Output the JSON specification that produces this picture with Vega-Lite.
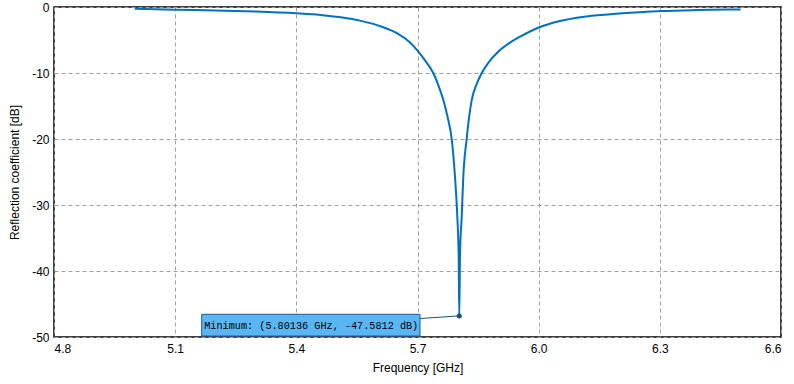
{
  "$schema": "https://vega.github.io/schema/vega-lite/v6.json",
  "width": 727,
  "height": 330,
  "autosize": {"type": "none"},
  "padding": {"left": 54, "top": 7, "right": 13, "bottom": 47},
  "background": "white",
  "config": {
    "view": {"stroke": "black", "strokeWidth": 1.5},
    "font": "Liberation Sans",
    "axis": {
      "domain": false,
      "ticks": false,
      "labelFont": "Liberation Sans",
      "labelFontSize": 12,
      "labelColor": "#000000",
      "titleFont": "Liberation Sans",
      "titleFontSize": 12,
      "titleFontWeight": "normal",
      "titleColor": "#000000",
      "gridColor": "#a0a0a0",
      "gridDash": [4, 3],
      "gridWidth": 1
    }
  },
  "datasets": {
    "curve": [
      {"f": 5.0, "db": -0.25},
      {"f": 5.1, "db": -0.4},
      {"f": 5.2, "db": -0.52},
      {"f": 5.3, "db": -0.68},
      {"f": 5.4, "db": -0.95},
      {"f": 5.46, "db": -1.2},
      {"f": 5.51, "db": -1.56},
      {"f": 5.56, "db": -2.1},
      {"f": 5.61, "db": -2.95},
      {"f": 5.65, "db": -4.0},
      {"f": 5.68, "db": -5.3},
      {"f": 5.70, "db": -6.6},
      {"f": 5.72, "db": -8.2},
      {"f": 5.739, "db": -10},
      {"f": 5.752, "db": -11.9},
      {"f": 5.764, "db": -14.1},
      {"f": 5.775, "db": -16.8},
      {"f": 5.7847, "db": -20},
      {"f": 5.7928, "db": -25.7},
      {"f": 5.7986, "db": -31.8},
      {"f": 5.8019, "db": -37.6},
      {"f": 5.8034, "db": -46.8},
      {"f": 5.8052, "db": -37.6},
      {"f": 5.8094, "db": -31.8},
      {"f": 5.8134, "db": -25.7},
      {"f": 5.8217, "db": -20},
      {"f": 5.8275, "db": -16.8},
      {"f": 5.8342, "db": -14.1},
      {"f": 5.845, "db": -11.9},
      {"f": 5.859, "db": -10},
      {"f": 5.877, "db": -8.3},
      {"f": 5.896, "db": -7},
      {"f": 5.929, "db": -5.4},
      {"f": 5.954, "db": -4.5},
      {"f": 6.0, "db": -3.1},
      {"f": 6.05, "db": -2.15},
      {"f": 6.108, "db": -1.5},
      {"f": 6.177, "db": -1.1},
      {"f": 6.25, "db": -0.8},
      {"f": 6.304, "db": -0.62},
      {"f": 6.391, "db": -0.47},
      {"f": 6.5, "db": -0.38}
    ],
    "box": [{"x1": 5.1657, "x2": 5.7062, "y1": -46.56, "y2": -49.85, "label": "Minimum: (5.80136 GHz, -47.5812 dB)", "tx": 5.172, "ty": -48.3}],
    "conn": [{"x1": 5.7062, "y1": -47.2, "x2": 5.8034, "y2": -46.8}],
    "minpt": [{"f": 5.8034, "db": -46.8}]
  },
  "layer": [
    {
      "data": {"name": "curve"},
      "mark": {"type": "line", "color": "#0070c0", "strokeWidth": 2, "clip": true, "interpolate": "monotone"},
      "encoding": {
        "x": {"field": "f", "type": "quantitative", "scale": {"domain": [4.8, 6.6], "nice": false, "zero": false},
          "axis": {"values": [4.8, 5.1, 5.4, 5.7, 6.0, 6.3, 6.6], "format": ".1f", "labelPadding": 6, "title": "Frequency [GHz]", "titlePadding": 8}},
        "y": {"field": "db", "type": "quantitative", "scale": {"domain": [-50, 0], "nice": false, "zero": false},
          "axis": {"values": [-50, -40, -30, -20, -10, 0], "labelExpr": "replace(datum.label, '\u2212', '-')", "labelPadding": 5, "title": "Reflection coefficient [dB]", "titlePadding": 10}}
      }
    },
    {
      "data": {"name": "box"},
      "mark": {"type": "rect", "fill": "#5ab6f2", "stroke": "#1a5c9c", "strokeWidth": 1},
      "encoding": {
        "x": {"field": "x1", "type": "quantitative"},
        "x2": {"field": "x2"},
        "y": {"field": "y1", "type": "quantitative"},
        "y2": {"field": "y2"}
      }
    },
    {
      "data": {"name": "box"},
      "mark": {"type": "text", "align": "left", "baseline": "middle", "font": "Liberation Mono", "fontSize": 10.2, "color": "#000000"},
      "encoding": {
        "x": {"field": "tx", "type": "quantitative"},
        "y": {"field": "ty", "type": "quantitative"},
        "text": {"field": "label"}
      }
    },
    {
      "data": {"name": "conn"},
      "mark": {"type": "rule", "color": "#1a4f80", "strokeWidth": 1},
      "encoding": {
        "x": {"field": "x1", "type": "quantitative"},
        "y": {"field": "y1", "type": "quantitative"},
        "x2": {"field": "x2"},
        "y2": {"field": "y2"}
      }
    },
    {
      "data": {"name": "minpt"},
      "mark": {"type": "point", "filled": true, "color": "#1a4f80", "size": 25, "opacity": 1},
      "encoding": {
        "x": {"field": "f", "type": "quantitative"},
        "y": {"field": "db", "type": "quantitative"}
      }
    }
  ]
}
